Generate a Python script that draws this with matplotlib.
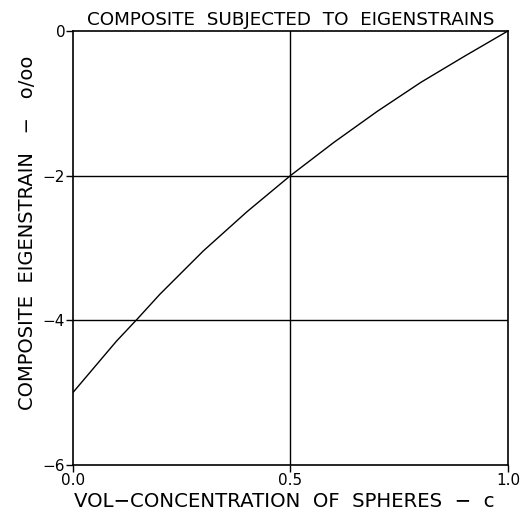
import matplotlib
matplotlib.use("Agg")
import matplotlib.pyplot as plt

# volume concentration of spheres vs composite eigenstrain (o/oo)
conc = [0.0, 0.1, 0.15, 0.2, 0.3, 0.4, 0.5, 0.6, 0.7, 0.8, 0.9, 1.0]
eigenstrain = [-5.0, -4.29, -3.97, -3.64, -3.04, -2.5, -2.0, -1.54, -1.11, -0.71, -0.35, 0.0]

xticks = [0.0, 0.5, 1.0]
xticklabels = ["0.0", "0.5", "1.0"]
yticks = [0, -2, -4, -6]
yticklabels = ["0", "\u22122", "\u22124", "\u22126"]

plt.rcParams['font.family'] = ['DejaVu Sans']

fig = plt.figure(figsize=(5.2, 5.15), dpi=100)
ax = fig.add_axes([0.140, 0.097, 0.837, 0.843])

ax.plot(conc, eigenstrain, color='black', linewidth=1.0)

# the original only has grid lines at the middle ticks
ax.axvline(0.5, color='black', linewidth=1.0)
for yv in [-2, -4]:
    ax.axhline(yv, color='black', linewidth=1.0)

ax.set_xlim(0, 1)
ax.set_ylim(-6, 0)
ax.set_xticks(xticks)
ax.set_xticklabels(xticklabels)
ax.set_yticks(yticks)
ax.set_yticklabels(yticklabels)
ax.tick_params(direction='out', length=5, width=1.0, labelsize=11, pad=0.5, colors='black')

for sp in ax.spines.values():
    sp.set_linewidth(1.2)

ax.set_title("COMPOSITE  SUBJECTED  TO  EIGENSTRAINS", fontsize=13.2, pad=4)
ax.set_xlabel("VOL\u2212CONCENTRATION  OF  SPHERES  \u2212  c", fontsize=14.2)
ax.set_ylabel("COMPOSITE  EIGENSTRAIN   \u2212   o/oo", fontsize=14.0)
ax.xaxis.set_label_coords(0.485, -0.062)
ax.yaxis.set_label_coords(-0.082, 0.535)

fig.savefig("out.png", dpi=100)
